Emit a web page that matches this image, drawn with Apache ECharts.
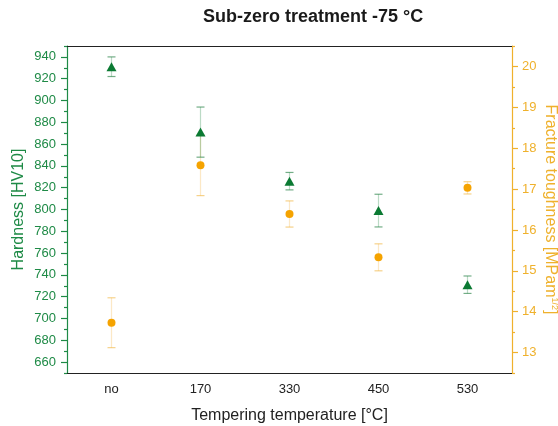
<!DOCTYPE html>
<html>
<head>
<meta charset="utf-8">
<script src="https://cdn.jsdelivr.net/npm/echarts@6/dist/echarts.min.js"></script>
<style>
  html, body { margin: 0; padding: 0; background: #fff; }
  #chart { width: 558px; height: 426px; }
</style>
</head>
<body>
<div id="chart"></div>
<script>
const categories = ['no', '170', '330', '450', '530'];
const hardness = [931, 871, 826, 799, 731];
const hardnessErr = [9, 23, 8, 15, 8];
const toughness = [13.73, 17.58, 16.39, 15.33, 17.03];
const toughnessErr = [0.61, 0.74, 0.32, 0.33, 0.15];

const hardnessTicks = [660, 680, 700, 720, 740, 760, 780, 800, 820, 840, 860, 880, 900, 920, 940];
const hardnessMinor = [650, 670, 690, 710, 730, 750, 770, 790, 810, 830, 850, 870, 890, 910, 930, 950];
const toughnessTicks = [13, 14, 15, 16, 17, 18, 19, 20];
const toughnessMinor = [12.5, 13.5, 14.5, 15.5, 16.5, 17.5, 18.5, 19.5, 20.5];

const green = '#0b7a33';
const greenAxis = '#1e8a46';
const orange = '#f5a300';
const orangeAxis = '#efb12c';
const font = 'Liberation Sans, Arial, sans-serif';

function errorBars(values, errs) {
  return values.map((v, i) => [i, v - errs[i], v + errs[i]]);
}

function makeErrorSeries(yAxisIndex, data, lineColor, capColor) {
  return {
    type: 'custom',
    xAxisIndex: 0,
    yAxisIndex: yAxisIndex,
    z: 1,
    data: data,
    encode: { x: 0, y: [1, 2] },
    renderItem: function (params, api) {
      const x = api.value(0);
      const lo = api.coord([x, api.value(1)]);
      const hi = api.coord([x, api.value(2)]);
      const w = 4;
      return {
        type: 'group',
        children: [
          { type: 'line', shape: { x1: lo[0], y1: lo[1], x2: hi[0], y2: hi[1] }, style: { stroke: lineColor, lineWidth: 1.2 } },
          { type: 'line', shape: { x1: lo[0] - w, y1: lo[1], x2: lo[0] + w, y2: lo[1] }, style: { stroke: capColor, lineWidth: 1.2 } },
          { type: 'line', shape: { x1: hi[0] - w, y1: hi[1], x2: hi[0] + w, y2: hi[1] }, style: { stroke: capColor, lineWidth: 1.2 } }
        ]
      };
    }
  };
}

const myChart = echarts.init(document.getElementById('chart'));
myChart.setOption({
  animation: false,
  textStyle: { fontFamily: font },
  title: {
    text: 'Sub-zero treatment -75 °C',
    left: 198,
    top: 3,
    textStyle: { fontSize: 18, fontWeight: 'bold', color: '#1a1a1a', fontFamily: font }
  },
  grid: { left: 67, right: 46, top: 46, bottom: 53, outerBoundsMode: 'none', containLabel: false },
  xAxis: [
    {
      type: 'category',
      data: categories,
      position: 'bottom',
      name: 'Tempering temperature [°C]',
      nameLocation: 'middle',
      nameGap: 35,
      nameMoveOverlap: false,
      nameTextStyle: { fontSize: 16, color: '#222' },
      axisLine: { lineStyle: { color: '#222', width: 1.2 } },
      axisTick: { alignWithLabel: true, length: 6, lineStyle: { color: '#222', width: 1.2 } },
      axisLabel: { color: '#222', fontSize: 13, margin: 10 },
      splitLine: { show: false }
    },
    {
      type: 'category',
      data: categories,
      position: 'bottom',
      axisLine: { show: false },
      axisTick: { length: 4, lineStyle: { color: '#222', width: 1.2 } },
      axisLabel: { show: false },
      splitLine: { show: false }
    },
    {
      type: 'category',
      data: categories,
      position: 'top',
      axisLine: { lineStyle: { color: '#222', width: 1.2 } },
      axisTick: { alignWithLabel: true, inside: true, length: 6, lineStyle: { color: '#222', width: 1.2 } },
      axisLabel: { show: false },
      splitLine: { show: false }
    },
    {
      type: 'category',
      data: categories,
      position: 'top',
      axisLine: { show: false },
      axisTick: { inside: true, length: 4, lineStyle: { color: '#222', width: 1.2 } },
      axisLabel: { show: false },
      splitLine: { show: false }
    }
  ],
  yAxis: [
    {
      type: 'value',
      position: 'left',
      min: 650,
      max: 950,
      name: 'Hardness [HV10]',
      nameLocation: 'middle',
      nameGap: 40,
      nameMoveOverlap: false,
      nameTextStyle: { fontSize: 16, color: greenAxis },
      axisLine: { show: true, lineStyle: { color: greenAxis, width: 1.2 } },
      axisTick: { show: true, length: 6, customValues: hardnessTicks, lineStyle: { color: greenAxis, width: 1.2 } },
      axisLabel: { color: greenAxis, fontSize: 13, margin: 11, customValues: hardnessTicks },
      splitLine: { show: false }
    },
    {
      type: 'value',
      position: 'left',
      min: 650,
      max: 950,
      axisLine: { show: false },
      axisTick: { show: true, length: 3, customValues: hardnessMinor, lineStyle: { color: greenAxis, width: 1.2 } },
      axisLabel: { show: false },
      splitLine: { show: false }
    },
    {
      type: 'value',
      position: 'right',
      min: 12.5,
      max: 20.5,
      name: 'Fracture toughness [MPam{sup|1/2}]',
      nameLocation: 'middle',
      nameGap: 30,
      nameMoveOverlap: false,
      nameRotate: -90,
      nameTextStyle: {
        fontSize: 16,
        color: orangeAxis,
        rich: {
          sup: { fontSize: 9, color: orangeAxis, verticalAlign: 'top', padding: [0, 0, 8, 0] }
        }
      },
      axisLine: { show: true, lineStyle: { color: orangeAxis, width: 1.2 } },
      axisTick: { show: true, length: 6, customValues: toughnessTicks, lineStyle: { color: orangeAxis, width: 1.2 } },
      axisLabel: { color: orangeAxis, fontSize: 13, margin: 10, customValues: toughnessTicks },
      splitLine: { show: false }
    },
    {
      type: 'value',
      position: 'right',
      min: 12.5,
      max: 20.5,
      axisLine: { show: false },
      axisTick: { show: true, length: 3, customValues: toughnessMinor, lineStyle: { color: orangeAxis, width: 1.2 } },
      axisLabel: { show: false },
      splitLine: { show: false }
    }
  ],
  series: [
    makeErrorSeries(2, errorBars(toughness, toughnessErr), 'rgba(245,190,90,0.35)', 'rgba(240,180,60,0.6)'),
    makeErrorSeries(0, errorBars(hardness, hardnessErr), 'rgba(60,150,90,0.35)', 'rgba(40,130,70,0.65)'),
    {
      name: 'Fracture toughness',
      type: 'scatter',
      xAxisIndex: 0,
      yAxisIndex: 2,
      z: 2,
      symbol: 'circle',
      symbolSize: 8,
      itemStyle: { color: orange, opacity: 1 },
      data: toughness
    },
    {
      name: 'Hardness',
      type: 'scatter',
      xAxisIndex: 0,
      yAxisIndex: 0,
      z: 3,
      symbol: 'triangle',
      symbolSize: [10, 9],
      itemStyle: { color: green, opacity: 1 },
      data: hardness
    }
  ]
});
</script>
</body>
</html>
